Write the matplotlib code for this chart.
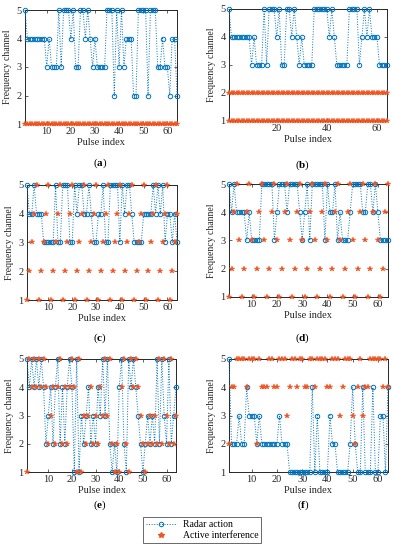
import matplotlib
matplotlib.use("Agg")
import matplotlib.pyplot as plt
from matplotlib.lines import Line2D

plt.rcParams['font.family'] = ['Liberation Serif', 'DejaVu Serif']
plt.rcParams['mathtext.fontset'] = 'custom'
plt.rcParams['mathtext.rm'] = 'Liberation Serif'
plt.rcParams['mathtext.bf'] = 'Liberation Serif:bold'

pulses = list(range(1, 65))

# radar action (frequency channel per pulse)
radar_a = [5, 4, 4, 4, 4, 4, 4, 4, 4, 3, 4, 3, 3, 3, 5, 3, 5, 5, 5, 4, 5, 3, 3, 5, 5, 4, 5, 4, 3, 4, 3, 3,
           3, 3, 5, 5, 5, 2, 5, 3, 5, 3, 4, 4, 4, 2, 2, 5, 5, 5, 5, 2, 5, 5, 5, 3, 3, 4, 3, 3, 2, 4, 4, 2]
radar_b = [5, 4, 4, 4, 4, 4, 4, 4, 4, 3, 4, 3, 3, 3, 5, 3, 5, 5, 5, 4, 5, 3, 3, 5, 5, 4, 5, 4, 3, 4, 3, 3,
           3, 3, 5, 5, 5, 5, 5, 5, 4, 5, 4, 3, 3, 3, 3, 3, 5, 5, 5, 5, 3, 4, 5, 4, 5, 4, 4, 4, 3, 3, 3, 3]
radar_c = [5, 4, 4, 5, 4, 4, 4, 3, 3, 3, 3, 3, 5, 3, 3, 5, 5, 5, 3, 3, 5, 4, 5, 5, 4, 4, 5, 4, 3, 3, 4, 4,
           5, 3, 3, 5, 5, 5, 5, 3, 5, 4, 5, 5, 4, 3, 3, 3, 3, 4, 4, 4, 4, 5, 4, 5, 4, 5, 3, 4, 4, 3, 4, 3]
radar_d = [5, 4, 5, 4, 4, 4, 4, 3, 4, 3, 3, 3, 3, 5, 5, 5, 5, 5, 3, 4, 5, 5, 5, 4, 5, 5, 5, 5, 4, 3, 4, 5,
           3, 5, 5, 5, 5, 5, 3, 5, 4, 4, 5, 3, 4, 3, 3, 3, 4, 5, 5, 5, 5, 4, 4, 5, 5, 4, 5, 4, 3, 3, 3, 3]
radar_e = [5, 4, 5, 4, 5, 4, 5, 4, 2, 3, 4, 2, 4, 5, 2, 4, 2, 4, 5, 4, 1, 5, 1, 3, 2, 3, 4, 2, 3, 2, 4, 3,
           5, 3, 5, 2, 1, 2, 1, 4, 5, 2, 1, 5, 4, 5, 4, 3, 2, 1, 2, 3, 2, 3, 2, 5, 2, 5, 3, 2, 5, 2, 3, 4]
radar_f = [5, 2, 2, 2, 3, 2, 2, 4, 3, 3, 3, 2, 3, 2, 2, 2, 2, 2, 2, 2, 3, 2, 2, 2, 1, 1, 1, 1, 1, 1, 1, 1,
           1, 4, 1, 3, 1, 1, 1, 1, 3, 2, 2, 1, 1, 1, 1, 1, 2, 4, 2, 1, 1, 4, 1, 1, 1, 4, 1, 1, 3, 3, 1, 4]

# active interference (jammed channel per pulse)
jam_a = [1] * 64
jam_b_low = [1] * 64
jam_b_high = [2] * 64
jam_c = [1, 2, 3, 4, 5, 1, 2, 3, 4, 5, 1, 2, 3, 4, 5, 1, 2, 3, 4, 5, 1, 2, 3, 4, 5, 1, 2, 3, 4, 5, 1, 2,
         3, 4, 5, 1, 2, 3, 4, 5, 1, 2, 3, 4, 5, 1, 2, 3, 4, 5, 1, 2, 3, 4, 5, 1, 2, 3, 4, 5, 1, 2, 3, 4]
jam_d = [1, 2, 4, 5, 3, 1, 2, 4, 5, 3, 1, 2, 4, 5, 3, 1, 2, 4, 5, 3, 1, 2, 4, 5, 3, 1, 2, 4, 5, 3, 1, 2,
         4, 5, 3, 1, 2, 4, 5, 3, 1, 2, 4, 5, 3, 1, 2, 4, 5, 3, 1, 2, 4, 5, 3, 1, 2, 4, 5, 3, 1, 2, 4, 5]
jam_e = [1, 5, 4, 5, 4, 5, 4, 5, 4, 2, 3, 4, 2, 4, 5, 2, 4, 2, 4, 5, 4, 1, 5, 1, 3, 2, 3, 4, 2, 3, 2, 4,
         3, 5, 3, 5, 2, 1, 2, 1, 4, 5, 2, 1, 5, 4, 5, 4, 3, 2, 1, 2, 3, 2, 3, 2, 5, 2, 5, 3, 2, 5, 2, 3]
jam_f = [2, 4, 4, 5, 5, 5, 5, 4, 5, 5, 5, 2, 5, 4, 4, 4, 5, 5, 4, 4, 5, 5, 5, 3, 4, 5, 5, 4, 5, 5, 4, 4,
         5, 5, 4, 5, 5, 5, 5, 4, 4, 5, 5, 5, 3, 4, 5, 5, 5, 3, 2, 4, 5, 3, 4, 4, 5, 5, 5, 5, 5, 4, 5, 4]

blue = '#0072BD'
orange = '#EE5522'
W, H = 393, 550


def rect(l, t, r, b):
    return [l / W, 1 - b / H, (r - l) / W, (b - t) / H]


panels = [
    ('a', rect(25, 10, 177, 124), radar_a, [jam_a], [10, 20, 30, 40, 50, 60], (100, 163)),
    ('b', rect(229, 9, 387, 121), radar_b, [jam_b_low, jam_b_high], [20, 40, 60], (303, 165)),
    ('c', rect(27, 185, 177, 300), radar_c, [jam_c], [10, 20, 30, 40, 50, 60], (100, 338)),
    ('d', rect(229, 184, 388, 297), radar_d, [jam_d], [10, 20, 30, 40, 50, 60], (303, 338)),
    ('e', rect(27, 359, 176, 472), radar_e, [jam_e], [10, 20, 30, 40, 50, 60], (100, 505)),
    ('f', rect(229, 359, 388, 472), radar_f, [jam_f], [10, 20, 30, 40, 50, 60], (303, 505)),
]

fig = plt.figure(figsize=(W / 100, H / 100), dpi=100)

for tag, r, radar, jams, xt, lab in panels:
    ax = fig.add_axes(r)
    ax.plot(pulses, radar, ls=':', lw=0.7, color=blue, marker='o', mfc='none',
            mec=blue, ms=3.2, mew=0.7, clip_on=False, zorder=3)
    for jam in jams:
        ax.plot(pulses, jam, ls='none', marker='*', color=orange, ms=4.2,
                mew=0.3, clip_on=False, zorder=4)
    ax.set_xlim(1, 64)
    ax.set_ylim(1, 5)
    ax.set_xticks(xt)
    ax.set_yticks([1, 2, 3, 4, 5])
    ax.tick_params(direction='in', length=2, width=0.5, labelsize=7.5, pad=2.5,
                   colors='#262626', top=True, right=True)
    for s in ax.spines.values():
        s.set_linewidth(0.7)
        s.set_color('#262626')
    ax.set_xlabel('Pulse index', fontsize=7.5, labelpad=1, color='#262626')
    ax.set_ylabel('Frequency channel', fontsize=7, labelpad=3, color='#262626')
    fig.text(lab[0] / W, 1 - lab[1] / H, r'($\mathbf{' + tag + r'}$)', fontsize=8,
             ha='center', va='center')

handles = [
    Line2D([], [], ls=':', lw=0.7, color=blue, marker='o', mfc='none', mec=blue, ms=3.2, mew=0.7),
    Line2D([], [], ls='none', marker='*', color=orange, ms=4.2),
]
leg = fig.legend(handles, ['Radar action', 'Active interference'], loc='center',
                 bbox_to_anchor=(202 / W, 1 - 530 / H), fontsize=7, frameon=True,
                 fancybox=False, edgecolor='#262626', handlelength=3.2,
                 borderpad=0.3, labelspacing=0.2, handletextpad=0.6)
leg.get_frame().set_linewidth(0.6)

fig.savefig('out.png', dpi=100)
